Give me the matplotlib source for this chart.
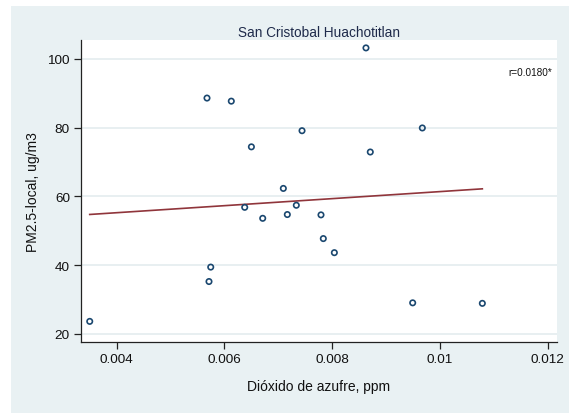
import numpy as np
import matplotlib
matplotlib.use("Agg")
import matplotlib.pyplot as plt
from matplotlib.patches import Rectangle

plt.rcParams['font.family'] = ['Liberation Sans', 'DejaVu Sans']

# SO2 concentration (ppm) and local PM2.5 (ug/m3)
so2 = [0.003499, 0.005676, 0.005713, 0.005745, 0.006127, 0.006376, 0.006500,
       0.006710, 0.007093, 0.007167, 0.007334, 0.007440, 0.007792, 0.007835,
       0.008040, 0.008627, 0.008707, 0.009494, 0.009673, 0.010787]
pm25 = [23.6, 88.6, 35.2, 39.4, 87.7, 56.8, 74.4,
        53.6, 62.3, 54.7, 57.4, 79.1, 54.6, 47.7,
        43.6, 103.2, 72.9, 29.0, 79.9, 28.85]

x_ticks = [0.004, 0.006, 0.008, 0.01, 0.012]
x_tick_labels = ["0.004", "0.006", "0.008", "0.01", "0.012"]
y_ticks = [20, 40, 60, 80, 100]

title = "San Cristobal Huachotitlan"
x_label = "Dióxido de azufre, ppm"
y_label = "PM2.5-local, ug/m3"
r_label = "r=0.0180*"

navy = "#1a476f"
maroon = "#90353b"
region = "#e9f1f3"
grid = "#e6eef0"

fig = plt.figure(figsize=(5.69, 4.14), dpi=100, facecolor="white")
fig.patches.append(Rectangle((11 / 569, 0), 1 - 11 / 569, 1 - 7 / 414,
                             transform=fig.transFigure, facecolor=region,
                             edgecolor="none", zorder=-10))

ax = fig.add_axes([81 / 569, 71 / 414, (557 - 81) / 569, (373 - 71) / 414])
ax.set_facecolor("white")

x = np.array(so2)
y = np.array(pm25)

# linear fit over the observed range
slope, intercept = np.polyfit(x, y, 1)
xf = np.array([x.min(), x.max()])
ax.plot(xf, intercept + slope * xf, color=maroon, lw=1.2, zorder=3)

ax.scatter(x, y, s=15, facecolors="none", edgecolors=navy, linewidths=1.2, zorder=4)

ax.set_xlim(0.003337, 0.012173)
ax.set_ylim(17.6, 105.5)
ax.set_xticks(x_ticks)
ax.set_xticklabels(x_tick_labels)
ax.set_yticks(y_ticks)

for yt in y_ticks:
    ax.axhline(yt, color=grid, lw=1.3, zorder=1)

for side in ("top", "right"):
    ax.spines[side].set_visible(False)
for side in ("left", "bottom"):
    ax.spines[side].set_color("#222222")
    ax.spines[side].set_linewidth(0.9)

ax.tick_params(axis="both", direction="out", length=5, width=0.9, color="#222222",
               labelsize=9.7, labelcolor="#111111", pad=3)

ax.set_xlabel(x_label, fontsize=10, color="#111111", labelpad=10)
ax.set_ylabel(y_label, fontsize=10, color="#111111", labelpad=5)
ax.set_title(title, fontsize=9.8, color="#1e2a4a", pad=3)

ax.text(0.99, 0.895, r_label, transform=ax.transAxes, ha="right", va="center",
        fontsize=7.2, color="#111111")

fig.savefig("out.png", dpi=100, facecolor=fig.get_facecolor())
